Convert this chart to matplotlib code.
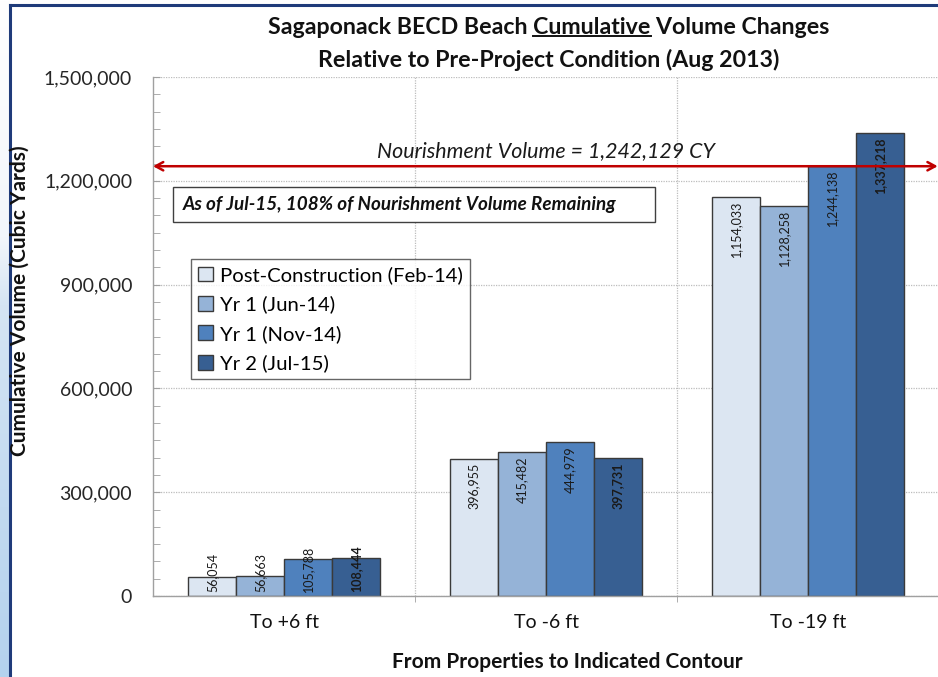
import matplotlib
matplotlib.use('Agg')
import matplotlib.pyplot as plt
import numpy as np
from matplotlib.patches import Rectangle
from matplotlib.lines import Line2D
from matplotlib.ticker import MultipleLocator, FuncFormatter
from matplotlib.colors import LinearSegmentedColormap

plt.rcParams['font.family'] = ['Lato', 'DejaVu Sans']

# ---------------- data ----------------
categories = ['To +6 ft', 'To -6 ft', 'To -19 ft']
series_names = ['Post-Construction (Feb-14)', 'Yr 1 (Jun-14)', 'Yr 1 (Nov-14)', 'Yr 2 (Jul-15)']
post_feb14 = [56054, 396955, 1154033]
yr1_jun14 = [56663, 415482, 1128258]
yr1_nov14 = [105788, 444979, 1244138]
yr2_jul15 = [108444, 397731, 1337218]
nourishment_volume = 1242129
yticks = [0, 300000, 600000, 900000, 1200000, 1500000]
title_line1 = ('Sagaponack BECD Beach ', 'Cumulative', ' Volume Changes')
title_line2 = 'Relative to Pre-Project Condition (Aug 2013)'
note_text = 'As of Jul-15, 108% of Nourishment Volume Remaining'
nourish_text = 'Nourishment Volume = 1,242,129 CY'
ylabel = 'Cumulative Volume (Cubic Yards)'
xlabel = 'From Properties to Indicated Contour'

series = [post_feb14, yr1_jun14, yr1_nov14, yr2_jul15]
colors = ['#DCE6F2', '#95B3D7', '#4F81BD', '#375F92']
label_bold = [False, False, False, True]

W, H = 938, 677
fig = plt.figure(figsize=(W / 100, H / 100), dpi=100)
fig.patch.set_facecolor('white')

# left slide-background strip with gradient
bg = fig.add_axes([0, 0, 9 / W, 1])
grad = np.linspace(0, 1, 256).reshape(-1, 1)
cm = LinearSegmentedColormap.from_list('bgc', [(0, '#FFFFFF'), (0.35, '#F2F6FB'), (0.45, '#D5E5F4'), (0.75, '#C2DAF0'), (1, '#B4D2EE')])
bg.imshow(grad, aspect='auto', cmap=cm, extent=[0, 1, 0, 1], origin='upper')
bg.set_axis_off()

# frame lines
fig.add_artist(Line2D([9.5 / W, 9.5 / W], [0, 1 - 5 / H], transform=fig.transFigure, color='#1F3B7A', lw=2.2))
fig.add_artist(Line2D([9.5 / W, 1], [1 - 5 / H, 1 - 5 / H], transform=fig.transFigure, color='#1F3B7A', lw=2.2))

ax = fig.add_axes([153 / W, 1 - 596 / H, (939 - 153) / W, (596 - 77) / H])
ax.set_facecolor('white')

x = np.arange(len(categories))
bw = 0.183
offsets = (np.arange(4) - 1.5) * bw
for i, (vals, c) in enumerate(zip(series, colors)):
    ax.bar(x + offsets[i], vals, bw, color=c, edgecolor='#3A3A3A', lw=1.0,
           label=series_names[i], zorder=2)

ax.set_xlim(-0.5, 2.5)
ax.set_ylim(0, 1500000)
ax.set_yticks(yticks)
ax.yaxis.set_minor_locator(MultipleLocator(50000))
ax.yaxis.set_major_formatter(FuncFormatter(lambda v, p: f'{int(v):,}'))
ax.set_xticks(x)
ax.set_xticklabels(categories)
ax.set_xticks([0.5, 1.5], minor=True)

ax.tick_params(axis='y', which='major', direction='in', length=5, color='#A0A0A0', pad=15, labelsize=14, labelcolor='#262626')
ax.tick_params(axis='y', which='minor', direction='in', length=5, color='#A0A0A0')
ax.tick_params(axis='x', which='major', length=0, pad=13, labelsize=14, labelcolor='#111111')
ax.tick_params(axis='x', which='minor', direction='out', length=4, color='#A0A0A0')

ax.yaxis.grid(True, which='major', linestyle=(0, (1, 1)), color='#BDBDBD', lw=0.9, zorder=0)
ax.xaxis.grid(True, which='minor', linestyle=(0, (1, 1)), color='#BDBDBD', lw=0.9, zorder=0)
ax.set_axisbelow(True)
for s in ['top', 'right']:
    ax.spines[s].set_visible(False)
for s in ['left', 'bottom']:
    ax.spines[s].set_color('#A0A0A0')
    ax.spines[s].set_linewidth(1.0)

# value labels
fig.canvas.draw()
renderer = fig.canvas.get_renderer()
px_per_unit = ax.transData.transform((0, 1))[1] - ax.transData.transform((0, 0))[1]
off = 4 / px_per_unit
y0px = ax.transData.transform((0, 0))[1]
for i, vals in enumerate(series):
    for j, v in enumerate(vals):
        xc = x[j] + offsets[i]
        t = ax.text(xc, v - off, f'{v:,}', rotation=90, ha='center', va='top',
                    fontsize=9, color='#1A1A1A',
                    fontweight='bold' if label_bold[i] else 'normal', zorder=4)
        ext = t.get_window_extent(renderer)
        if ext.y0 < y0px + 4:
            t.set_position((xc, off))
            t.set_va('bottom')

# nourishment line
ax.annotate('', xy=(-0.5, nourishment_volume), xytext=(2.495, nourishment_volume),
            arrowprops=dict(arrowstyle='<->,head_length=0.55,head_width=0.3', color='#C00000',
                            lw=1.8, shrinkA=0, shrinkB=0),
            annotation_clip=False, zorder=6)
ax.text(1.0, nourishment_volume + 15 / px_per_unit, nourish_text, ha='center', va='center',
        fontsize=15.4, style='italic', color='#1A1A1A', zorder=6)

# note box
ax.add_patch(Rectangle(((173 - 153) / 786, (596 - 222) / 519), 482 / 786, 35 / 519,
                       transform=ax.transAxes, facecolor='white', edgecolor='#404040', lw=1.0, zorder=5))
ax.text((183 - 153) / 786, (596 - 204.5) / 519, note_text, transform=ax.transAxes,
        ha='left', va='center', fontsize=13.6, fontweight='bold', style='italic', color='#111111', zorder=6)

# legend
leg = ax.legend(loc='upper left', bbox_to_anchor=((191 - 153) / 786, (596 - 259) / 519),
                borderaxespad=0, fontsize=14.6, frameon=True, fancybox=False, edgecolor='#404040',
                handlelength=0.75, handleheight=0.75, handletextpad=0.35, labelspacing=0.57,
                borderpad=0.35)
leg.get_frame().set_linewidth(1.0)
leg.set_zorder(7)

# axis labels
fig.text(20 / W, 1 - 301 / H, ylabel, rotation=90, ha='center', va='center',
         fontsize=15, fontweight='bold', color='#111111')
fig.text(567 / W, 1 - 662 / H, xlabel, ha='center', va='center',
         fontsize=15, fontweight='bold', color='#111111')

# title with underline
fig.text(549 / W, 1 - 60 / H, title_line2, ha='center', va='center', fontsize=16.7, fontweight='bold', color='#111111')
full1 = ''.join(title_line1)
t1 = fig.text(549 / W, 1 - 28 / H, full1, ha='center', va='center', fontsize=16.7, fontweight='bold', color='#111111')
fig.canvas.draw()
e_full = t1.get_window_extent(renderer)
tmp = fig.text(0, 0, title_line1[0] + title_line1[1], fontsize=16.7, fontweight='bold')
e_pre = tmp.get_window_extent(renderer)
tmp2 = fig.text(0, 0, title_line1[1], fontsize=16.7, fontweight='bold')
e_word = tmp2.get_window_extent(renderer)
tmp.remove(); tmp2.remove()
x_end = e_full.x0 + e_pre.width
x_start = x_end - e_word.width
y_ul = e_full.y0 + 3
fig.add_artist(Line2D([x_start / W, x_end / W], [y_ul / H, y_ul / H], transform=fig.transFigure,
                      color='#111111', lw=1.4))

fig.savefig('out.png', dpi=100)
